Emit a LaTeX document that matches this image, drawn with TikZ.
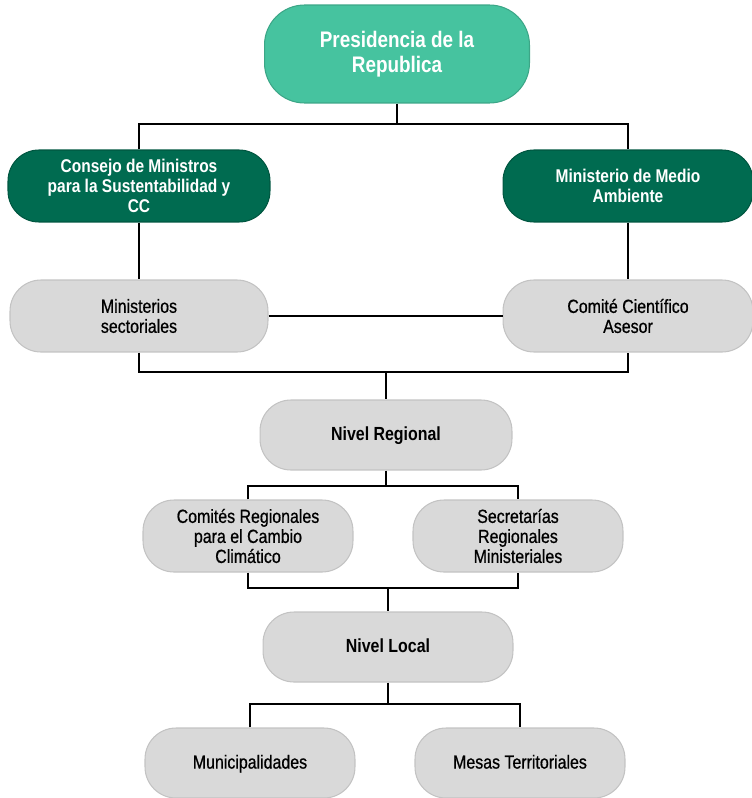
\documentclass[tikz,border=0pt]{standalone}
\usepackage{fontspec}
\setmainfont{Liberation Sans}[FakeStretch=0.84]
\newfontfamily\medfont{Liberation Sans}[FakeStretch=0.84, FakeBold=0.7]
\usepackage{tikz}
\usetikzlibrary{positioning}
\definecolor{teal1}{HTML}{46C39F}
\definecolor{dgreen}{HTML}{006B50}
\definecolor{lgray}{HTML}{D9D9D9}

\begin{document}
\begin{tikzpicture}[x=0.02cm, y=-0.02cm, line width=1.4pt,
  box/.style={rectangle, rounded corners=0.62cm, align=center, inner sep=2pt, line width=0.6pt},
  topbox/.style={box, rounded corners=0.8cm, fill=teal1, draw=teal1!85!black, text=white, minimum width=5.3cm, minimum height=1.96cm,
    font=\bfseries\fontsize{12.8}{14.4}\selectfont},
  darkbox/.style={box, fill=dgreen, draw=dgreen!80!black, text=white, minimum height=1.44cm,
    font=\bfseries\fontsize{10.5}{11.4}\selectfont},
  greybox/.style={box, fill=lgray, draw=lgray!90!black, text=black, minimum height=1.44cm,
    font=\medfont\fontsize{10.8}{11.4}\selectfont},
  levelbox/.style={greybox, minimum width=5.04cm, minimum height=1.4cm, font=\bfseries\fontsize{10.8}{11.4}\selectfont},
  oneline/.style={text height=1.6ex, text depth=0.4ex}]
  \useasboundingbox (0,0) rectangle (751,798);
  \node[topbox] (pres) at (397,54) {Presidencia de la\\Republica};
  \node[darkbox, minimum width=5.24cm] (consejo) at (139,186) {Consejo de Ministros\\para la Sustentabilidad y\\CC};
  \node[darkbox, minimum width=5.0cm] (mma) at (628,186) {Ministerio de Medio\\Ambiente};
  \node[greybox, minimum width=5.16cm] (minsec) at (139,316) {Ministerios\\sectoriales};
  \node[greybox, minimum width=5.0cm] (comite) at (628,316) {Comité Científico\\Asesor};
  \node[levelbox, oneline] (nreg) at (386,435) {Nivel Regional};
  \node[greybox, minimum width=4.2cm] (creg) at (248,536) {Comités Regionales\\para el Cambio\\Climático};
  \node[greybox, minimum width=4.2cm] (seremi) at (518,536) {Secretarías\\Regionales\\Ministeriales};
  \node[levelbox, oneline, minimum width=5.0cm] (nloc) at (388,647) {Nivel Local};
  \node[greybox, oneline, minimum width=4.2cm, minimum height=1.4cm] (muni) at (250,763) {Municipalidades};
  \node[greybox, oneline, minimum width=4.2cm, minimum height=1.4cm] (mesas) at (520,763) {Mesas Territoriales};
  % joints of the tree
  \coordinate (busA) at (397,124);
  \coordinate (busB) at (386,372);
  \coordinate (busC) at (386,486);
  \coordinate (busD) at (388,588);
  \coordinate (busE) at (388,704);
  \draw (pres.south) -- (busA);
  \draw (consejo.north) |- (busA) -| (mma.north);
  \draw (consejo.south) -- (minsec.north);
  \draw (mma.south) -- (comite.north);
  \draw (minsec.east) -- (comite.west);
  \draw (minsec.south) |- (busB) -| (comite.south);
  \draw (busB) -- (nreg.north);
  \draw (nreg.south) -- (busC);
  \draw (creg.north) |- (busC) -| (seremi.north);
  \draw (creg.south) |- (busD) -| (seremi.south);
  \draw (busD) -- (nloc.north);
  \draw (nloc.south) -- (busE);
  \draw (muni.north) |- (busE) -| (mesas.north);
\end{tikzpicture}
\end{document}
